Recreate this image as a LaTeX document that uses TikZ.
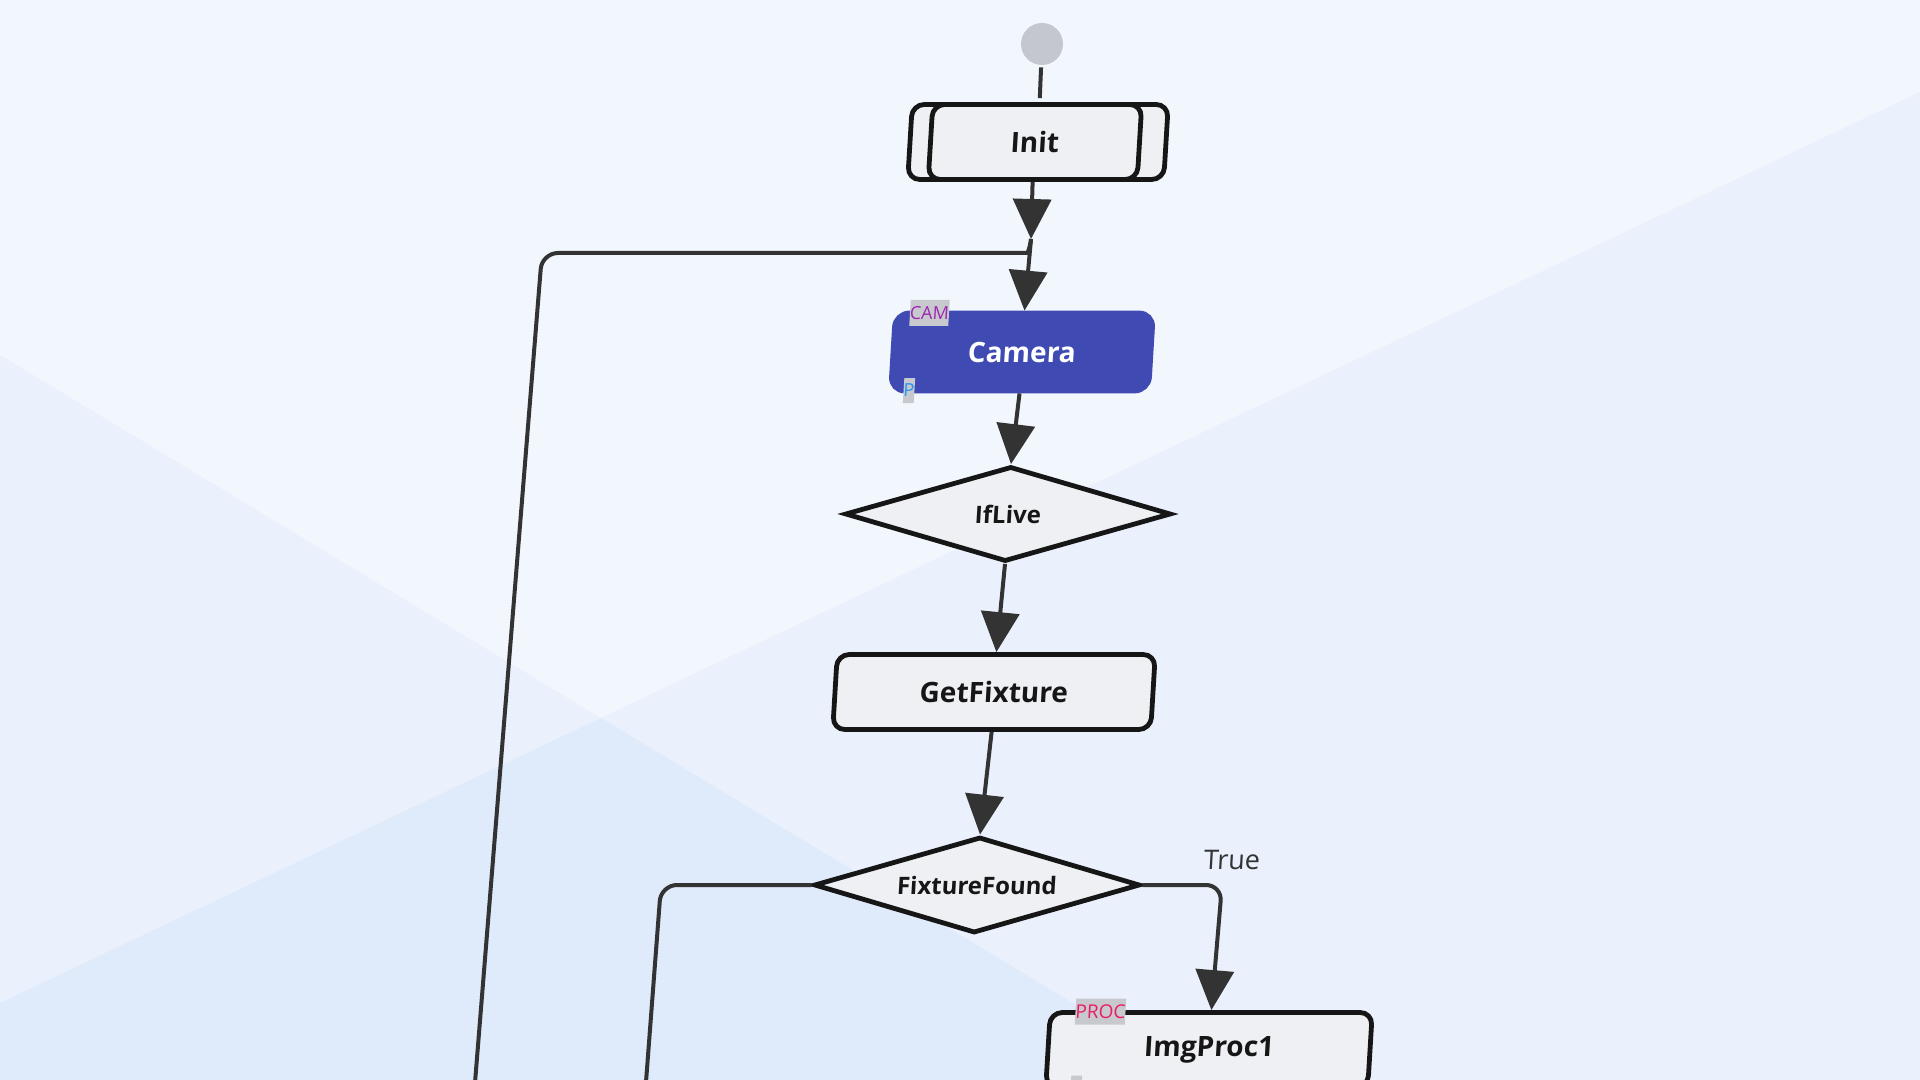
\documentclass[tikz,border=0pt]{standalone}
\usepackage{fontspec}
\setmainfont{Open Sans}
\usetikzlibrary{arrows.meta,shapes.geometric}
\definecolor{bgtop}{HTML}{F2F7FE}
\definecolor{bgmid}{HTML}{EAF1FC}
\definecolor{bgdark}{HTML}{DFEAFA}
\definecolor{nodefill}{HTML}{EFF0F3}
\definecolor{nodeline}{HTML}{161616}
\definecolor{edgecol}{HTML}{333333}
\definecolor{camfill}{HTML}{3F4AB2}
\definecolor{tagbg}{HTML}{C8C9CF}
\definecolor{camtag}{HTML}{9C27B0}
\definecolor{ptag}{HTML}{2196F3}
\definecolor{proctag}{HTML}{E91E63}
\definecolor{startfill}{HTML}{C4C7CE}
\begin{document}
\begin{tikzpicture}[x=0.5pt,y=-0.5pt,
  slanted/.style={xslant=0.06},
  procbox/.style={slanted, draw=nodeline, line width=2.4pt, fill=nodefill, rounded corners=6pt,
    minimum height=37.5pt, inner sep=0pt, font=\bfseries\fontsize{14}{16}\selectfont, text=nodeline},
  decision/.style={slanted, diamond, aspect=3.4, draw=nodeline, line width=2.4pt, fill=nodefill, inner sep=0pt,
    font=\bfseries\fontsize{12}{14}\selectfont, text=nodeline},
  flow/.style={draw=edgecol, line width=2pt, -{Triangle[length=20pt,width=19pt]}},
  link/.style={draw=edgecol, line width=2pt, rounded corners=8pt},
  plain/.style={draw=edgecol, line width=2pt},
  tag/.style={slanted, fill=tagbg, inner sep=0pt, minimum height=13pt, font=\fontsize{9}{10}\selectfont},
]
\useasboundingbox (0,0) rectangle (1920,1080);
% background
\fill[bgtop] (0,0) rectangle (1920,1080);
\fill[bgmid] (1920,92) -- (1920,1080) -- (0,1080) -- (0,1003) -- cycle;
\fill[bgmid] (0,355) -- (1200,1080) -- (0,1080) -- cycle;
\fill[bgdark] (601,718) -- (1200,1080) -- (0,1080) -- (0,1003) -- cycle;

% nodes
\node[circle, fill=startfill, minimum size=21pt, inner sep=0pt] (start) at (1042,44) {};
\node[procbox, minimum width=128pt] (initbg) at (1038,142) {};
\node[procbox, minimum width=104.5pt] (init) at (1035,142) {Init};
\node[procbox, fill=camfill, draw=camfill, text=white, minimum width=129pt, minimum height=39pt, rounded corners=7pt] (camera) at (1022,352) {Camera};
\node[decision, minimum width=163pt, minimum height=47.5pt] (iflive) at (1008,514) {IfLive};
\node[procbox, minimum width=159pt] (getfix) at (994,692) {GetFixture};
\node[decision, minimum width=163pt, minimum height=48pt] (found) at (977,885) {FixtureFound};
\node[procbox, minimum width=161pt] (img) at (1209,1050) {ImgProc1};

\node[slanted, font=\fontsize{13.5}{15}\selectfont, text=edgecol, inner sep=0pt] (truelbl) at (1232,860) {True};

% coordinates
\coordinate (join) at (1031,239);
\coordinate (loopend) at (474,1095);
\coordinate (loopcorner) at (542,253);
\coordinate (leftcorner) at (661,885);
\coordinate (leftend) at (645,1095);
\coordinate (truecorner) at (1222,885);

% edges
\draw[plain, shorten <=1pt, shorten >=2pt] (start) -- (initbg);
\draw[flow] (init.south) -- (join);
\draw[flow] (join) -- (camera.north);
\draw[flow] (camera.south) -- (iflive.north);
\draw[flow] (iflive.south) -- (getfix.north);
\draw[flow] (getfix.south) -- (found.north);
\draw[flow, rounded corners=8pt] (found.east) -- (truecorner) -- (img.north);
\draw[link] (found.west) -- (leftcorner) -- (leftend);
\draw[link] (loopend) -- (loopcorner) -- (1012,253) .. controls (1027,253) and (1030,248) .. (join);

% tags
\node[tag, text=camtag] (camtagn) at (929.5,313) {CAM};
\node[tag, text=ptag, minimum height=12.5pt] (ptag1) at (909,390.5) {P};
\node[tag, text=proctag, font=\fontsize{9.5}{10}\selectfont] (proctagn) at (1100.5,1011.5) {PROC};
\node[tag, text=ptag, minimum height=12.5pt] (ptag2) at (1076,1088) {P};
\end{tikzpicture}
\end{document}
